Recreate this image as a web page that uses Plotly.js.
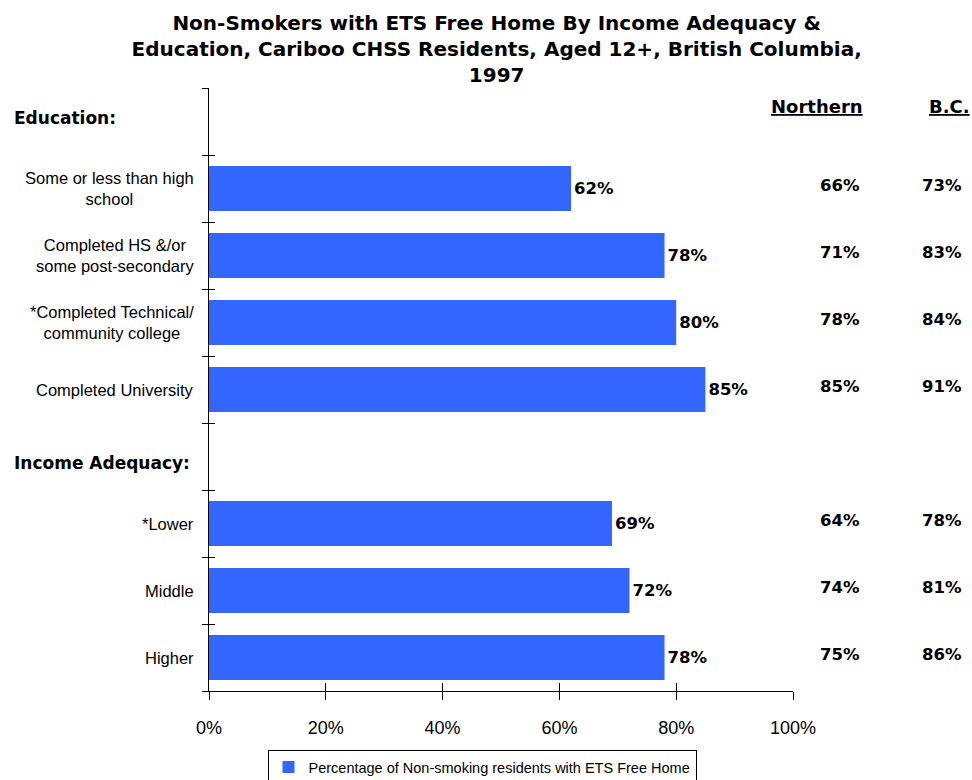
<!DOCTYPE html>
<html><head><meta charset="utf-8">
<script src="https://cdn.plot.ly/plotly-3.0.1.min.js"></script>
<style>body{margin:0;background:#fff}#chart{width:972px;height:780px}</style>
</head><body><div id="chart"></div>
<script>
// Data
const categories = ["Some or less than high<br>school", "Completed HS &/or<br>some post-secondary", "*Completed Technical/<br>community college", "Completed University", "*Lower", "Middle", "Higher"];
const slotPositions = [1, 2, 3, 4, 6, 7, 8];
const groupHeaders = ["Education:", "Income Adequacy:"];
const groupPositions = [0, 5];
const cariboo = [62, 78, 80, 85, 69, 72, 78];
const northern = [66, 71, 78, 85, 64, 74, 75];
const bc = [73, 83, 84, 91, 78, 81, 86];
const xTicks = [0, 20, 40, 60, 80, 100];
const xTickText = ["0%", "20%", "40%", "60%", "80%", "100%"];
const seriesName = "Percentage of Non-smoking residents with ETS Free Home";

const BOLD = "DejaVu Sans, Verdana, sans-serif";
const REG = "Liberation Sans, Arial, sans-serif";

const trace = {
  type: "bar", orientation: "h",
  x: cariboo, y: slotPositions,
  width: 0.67,
  marker: {color: "#3366FF"},
  name: seriesName,
  text: cariboo.map(v => "<b>" + v + "%</b>"),
  textposition: "outside",
  cliponaxis: false,
  textfont: {family: BOLD, size: 16.5, color: "#000"},
  hoverinfo: "none"
};

const PX = 584; // plot width in px, for paper conversions
const annotations = [];
const headerShift = [-0.05, 0.1];
groupHeaders.forEach((h, i) => annotations.push({
  xref: "paper", yref: "y", x: (12-209)/PX, y: groupPositions[i] + headerShift[i],
  xanchor: "left", yanchor: "middle", showarrow: false,
  text: "<b>" + h + "</b>", font: {family: BOLD, size: 17, color: "#000"}
}));
categories.forEach((c, i) => annotations.push({
  xref: "paper", yref: "y", x: (196-209)/PX, y: slotPositions[i],
  xanchor: "right", yanchor: "middle", align: "center", showarrow: false,
  text: c, font: {family: REG, size: 16.5, color: "#000"}
}));
annotations.push({xref: "paper", yref: "y", x: (865-209)/PX, y: -0.23, xanchor: "right", yanchor: "middle", showarrow: false,
  text: "<b><u>Northern</u></b>", font: {family: BOLD, size: 18, color: "#000"}});
annotations.push({xref: "paper", yref: "y", x: (972-209)/PX, y: -0.23, xanchor: "right", yanchor: "middle", showarrow: false,
  text: "<b><u>B.C.</u></b>", font: {family: BOLD, size: 18, color: "#000"}});
slotPositions.forEach((p, i) => {
  annotations.push({xref: "paper", yref: "y", x: (862-209)/PX, y: p - 0.05, xanchor: "right", yanchor: "middle", showarrow: false,
    text: "<b>" + northern[i] + "%</b>", font: {family: BOLD, size: 16.5, color: "#000"}});
  annotations.push({xref: "paper", yref: "y", x: (964-209)/PX, y: p - 0.05, xanchor: "right", yanchor: "middle", showarrow: false,
    text: "<b>" + bc[i] + "%</b>", font: {family: BOLD, size: 16.5, color: "#000"}});
});

const boundaries = [];
for (let b = -0.5; b <= 8.5; b += 1) boundaries.push(b);

const layout = {
  width: 972, height: 780,
  margin: {l: 209, r: 179, t: 88, b: 89, autoexpand: false},
  paper_bgcolor: "#fff", plot_bgcolor: "#fff",
  title: {
    text: "<b>Non-Smokers with ETS Free Home By Income Adequacy &<br>Education, Cariboo CHSS Residents, Aged 12+, British Columbia,<br>1997</b>",
    font: {family: BOLD, size: 20, color: "#000"},
    xref: "container", x: 0.511, xanchor: "center", yref: "container", y: 1 - 30/780, yanchor: "middle"
  },
  showlegend: true,
  legend: {
    orientation: "h", xref: "paper", yref: "paper",
    x: (482-209)/PX, xanchor: "center", y: (691-750)/603, yanchor: "top",
    bordercolor: "#000", borderwidth: 1,
    font: {family: REG, size: 14.5, color: "#000"},
    itemwidth: 30
  },
  xaxis: {
    range: [0, 100], tickvals: xTicks, ticktext: xTickText,
    ticks: "outside", ticklen: 8, tickcolor: "#000", tickwidth: 1,
    showline: true, linecolor: "#000", linewidth: 1,
    showgrid: false, zeroline: false, fixedrange: true,
    tickfont: {family: REG, size: 18, color: "#000"},
    ticklabelstandoff: 12
  },
  xaxis2: {
    overlaying: "x", range: [0, 100], tickvals: xTicks, showticklabels: false,
    ticks: "inside", ticklen: 8, tickcolor: "#000", showgrid: false, zeroline: false, showline: false
  },
  yaxis: {
    range: [8.5, -0.5], tickvals: slotPositions, showticklabels: false,
    ticks: "", showline: true, linecolor: "#000", linewidth: 1,
    showgrid: false, zeroline: false, fixedrange: true
  },
  yaxis2: {
    overlaying: "y", range: [8.5, -0.5], tickvals: boundaries, showticklabels: false,
    ticks: "outside", ticklen: 6, tickcolor: "#000", showgrid: false, zeroline: false, showline: false
  },
  yaxis3: {
    overlaying: "y", range: [8.5, -0.5], tickvals: boundaries, showticklabels: false,
    ticks: "inside", ticklen: 6, tickcolor: "#000", showgrid: false, zeroline: false, showline: false
  },
  annotations: annotations
};

const helper1 = {type: "scatter", x: [], y: [], xaxis: "x2", yaxis: "y2", showlegend: false, hoverinfo: "none"};
const helper2 = {type: "scatter", x: [], y: [], xaxis: "x", yaxis: "y3", showlegend: false, hoverinfo: "none"};

Plotly.newPlot("chart", [trace, helper1, helper2], layout, {displayModeBar: false, staticPlot: true});
</script></body></html>
